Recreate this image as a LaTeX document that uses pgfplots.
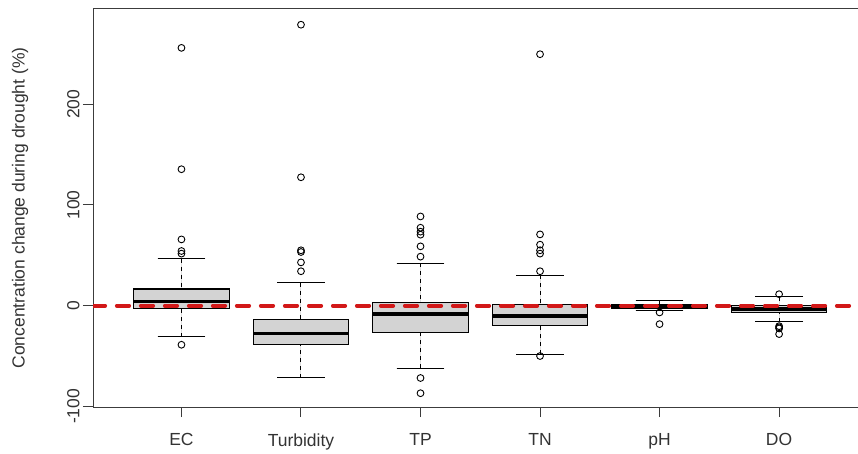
\documentclass[border=0pt]{standalone}
\usepackage{fontspec}
\setmainfont{Liberation Sans}
\usepackage{pgfplots}
\pgfplotsset{compat=1.18}
\usepgfplotslibrary{statistics}
\definecolor{boxgray}{RGB}{211,211,211}
\definecolor{refred}{RGB}{210,24,24}
\definecolor{frame}{RGB}{60,60,60}

\pgfplotsset{
  rbox/.style={
    boxplot/draw direction=y,
    draw=black, fill=boxgray, line width=1.1bp, solid,
    boxplot/box extend=0.8,
    boxplot/whisker extend=0.4,
    boxplot/every median/.style={line width=3.6bp, black},
    boxplot/draw/lower whisker/.code={
      \draw[black, line width=1bp, dash pattern=on 4bp off 4bp]
        (boxplot box cs:\pgfplotsboxplotvalue{lower whisker},0.5) --
        (boxplot box cs:\pgfplotsboxplotvalue{lower quartile},0.5);
      \draw[black, line width=1bp, solid]
        (boxplot whisker cs:\pgfplotsboxplotvalue{lower whisker},0) --
        (boxplot whisker cs:\pgfplotsboxplotvalue{lower whisker},1);
    },
    boxplot/draw/upper whisker/.code={
      \draw[black, line width=1bp, dash pattern=on 4bp off 4bp]
        (boxplot box cs:\pgfplotsboxplotvalue{upper whisker},0.5) --
        (boxplot box cs:\pgfplotsboxplotvalue{upper quartile},0.5);
      \draw[black, line width=1bp, solid]
        (boxplot whisker cs:\pgfplotsboxplotvalue{upper whisker},0) --
        (boxplot whisker cs:\pgfplotsboxplotvalue{upper whisker},1);
    },
  },
  outl/.style={only marks, mark=o, mark size=3.4bp, black,
               mark options={line width=0.9bp}},
}

\begin{document}
\begin{tikzpicture}
\useasboundingbox (0,0) rectangle (858bp,454bp);
\begin{axis}[
  at={(93bp,47bp)}, anchor=south west,
  scale only axis, width=765bp, height=398bp,
  xmin=0.26, xmax=6.66, ymin=-100.6, ymax=294.6,
  axis x line*=box, axis y line*=left,
  axis line style={frame, line width=1bp},
  tick align=outside, xtick pos=left, ytick pos=left,
  major tick length=10bp,
  tick style={frame, line width=1bp},
  xtick={1,2,3,4,5,6},
  xticklabels={EC,Turbidity,TP,TN,pH,DO},
  ytick={-100,0,100,200},
  yticklabels={-100,0,100,200},
  font=\fontsize{17.5bp}{21bp}\selectfont,
  ticklabel style={font=\fontsize{17.5bp}{21bp}\selectfont, text=black!80},
  xticklabel style={yshift=-13bp},
  yticklabel style={rotate=90, anchor=south},
  ylabel={Concentration change during drought (\%)},
  ylabel style={at={(axis description cs:0,0.5)}, anchor=center,
                yshift=73bp, text=black!80},
  clip=true,
]
% EC
\addplot[rbox, boxplot prepared={draw position=1, median=4.2,
  lower quartile=-2.5, upper quartile=16.6,
  lower whisker=-30.9, upper whisker=46.7}] coordinates {};
\addplot[outl] coordinates {(1,256) (1,135.5) (1,65.8) (1,54.3) (1,51.7) (1,-38.8)};
% Turbidity
\addplot[rbox, boxplot prepared={draw position=2, median=-27.5,
  lower quartile=-38.8, upper quartile=-13.7,
  lower whisker=-71.8, upper whisker=22.6}] coordinates {};
\addplot[outl] coordinates {(2,279) (2,127.5) (2,55) (2,53.3) (2,43) (2,34.2)};
% TP
\addplot[rbox, boxplot prepared={draw position=3, median=-8.1,
  lower quartile=-26.5, upper quartile=3.2,
  lower whisker=-61.9, upper whisker=42}] coordinates {};
\addplot[outl] coordinates {(3,88.6) (3,77.4) (3,73.5) (3,70.5) (3,58.9) (3,48.7) (3,-71.8) (3,-86.9)};
% TN
\addplot[rbox, boxplot prepared={draw position=4, median=-10.1,
  lower quartile=-19.6, upper quartile=0.8,
  lower whisker=-48, upper whisker=30.2}] coordinates {};
\addplot[outl] coordinates {(4,249.7) (4,70.8) (4,60.6) (4,55) (4,51.7) (4,34.2) (4,-50)};
% pH
\addplot[rbox, boxplot prepared={draw position=5, median=-0.2,
  lower quartile=-2.8, upper quartile=1.5,
  lower whisker=-4.5, upper whisker=5.4}] coordinates {};
\addplot[outl] coordinates {(5,-6.7) (5,-18.3)};
% DO
\addplot[rbox, boxplot prepared={draw position=6, median=-3.5,
  lower quartile=-6.7, upper quartile=-0.2,
  lower whisker=-16, upper whisker=8.7}] coordinates {};
\addplot[outl] coordinates {(6,11.4) (6,-20.3) (6,-21.5) (6,-22.6) (6,-28.2)};
% reference line at zero
\addplot[refred, line width=4.2bp, line cap=round, dash pattern=on 12bp off 12bp]
  coordinates {(0.26,0) (6.66,0)};
\end{axis}
\end{tikzpicture}
\end{document}
